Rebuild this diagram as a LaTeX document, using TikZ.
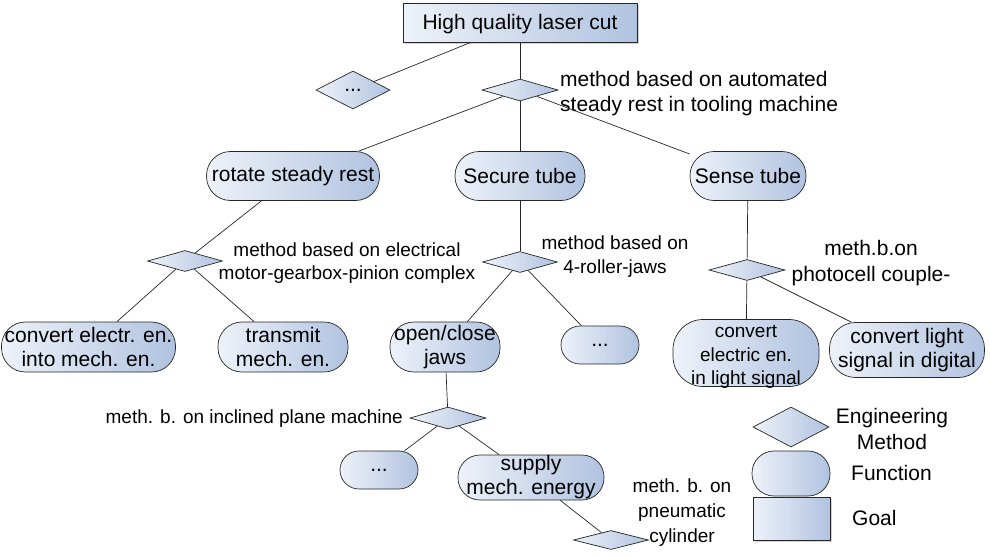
\documentclass[tikz,border=0pt]{standalone}
\usepackage{fontspec}
\setmainfont{Liberation Sans}
\usetikzlibrary{shapes.geometric,shadows}
\definecolor{lightb}{HTML}{EEF2F9}
\definecolor{darkb}{HTML}{B0C3E0}
\tikzset{
 base/.style={draw=black!85, line width=0.7pt, left color=lightb, right color=darkb, inner sep=0pt, align=center, font=\fontsize{21}{24}\selectfont},
 goalbox/.style={base, rectangle, drop shadow={shadow xshift=1.5pt, shadow yshift=-1.5pt, opacity=0.35}},
 func/.style={base, rectangle, rounded corners=24pt},
 meth/.style={base, diamond},
 lab/.style={inner sep=0pt, align=center, font=\fontsize{19}{23}\selectfont},
 conn/.style={draw=black!85, line width=0.7pt},
}
\begin{document}
\begin{tikzpicture}[x=1pt,y=-1pt]
\useasboundingbox (0,0) rectangle (990,555);
% goal and methods
\node[goalbox, minimum width=234pt, minimum height=39pt, text height=15pt, text depth=2pt] (G) at (520,22.5) {High quality laser cut};
\node[meth, minimum width=74pt, minimum height=38pt] (Md) at (353,90) {...};
\node[meth, minimum width=76pt, minimum height=22pt] (M0) at (520,90) {};
% functions level 1
\node[func, minimum width=173pt, minimum height=49pt] (F1) at (293,176) {rotate steady rest};
\node[func, minimum width=130pt, minimum height=49pt] (F2) at (520,176) {Secure tube};
\node[func, minimum width=116pt, minimum height=49pt] (F3) at (748,176) {Sense tube};
% methods level 2
\node[meth, minimum width=75pt, minimum height=21pt] (M1) at (185,261) {};
\node[meth, minimum width=75pt, minimum height=21pt] (M2) at (520,262) {};
\node[meth, minimum width=76pt, minimum height=21pt] (M3) at (747,270) {};
% functions level 2
\node[func, minimum width=174pt, minimum height=50pt] (F4) at (88.5,347) {convert electr. en.\\into mech. en.};
\node[func, minimum width=130pt, minimum height=50pt] (F5) at (283,347) {transmit\\mech. en.};
\node[func, minimum width=110pt, minimum height=50pt] (F6) at (445,347) {open/close\\jaws};
\node[func, rounded corners=19pt, minimum width=78pt, minimum height=38pt] (F7) at (600,345) {...};
\node[func, rounded corners=30pt, minimum width=146pt, minimum height=67pt] (F8) at (746,353) {};
\node[lab, font=\fontsize{19}{23.5}\selectfont] (F8t) at (746,357) {convert\\electric en.\\in light signal};
\node[func, rounded corners=26pt, minimum width=155pt, minimum height=55pt] (F9) at (907,350) {convert light\\signal in digital};
% level 3
\node[meth, minimum width=76pt, minimum height=22pt] (M4) at (448,418) {};
\node[func, rounded corners=19pt, minimum width=78pt, minimum height=38pt] (F10) at (379,470) {...};
\node[func, rounded corners=22pt, minimum width=146pt, minimum height=45pt] (F11) at (531,477.5) {supply\\mech. energy};
\node[meth, minimum width=75pt, minimum height=19pt] (M5) at (611,540) {};
% legend
\node[meth, minimum width=76pt, minimum height=40pt] (LM) at (791,427) {};
\node[func, rounded corners=22pt, minimum width=78pt, minimum height=45pt] (LF) at (791,473.5) {};
\node[goalbox, minimum width=77pt, minimum height=43pt] (LG) at (791.5,518.5) {};
% labels
\node[lab, font=\fontsize{21}{25}\selectfont, anchor=west, align=left] (L0) at (560,93.5) {method based on automated\\steady rest in tooling machine};
\node[lab] (L1) at (347,263) {method based on electrical\\motor-gearbox-pinion complex};
\node[lab, font=\fontsize{19}{24}\selectfont] (L2) at (615,256.5) {method based on\\4-roller-jaws};
\node[lab, font=\fontsize{21}{26}\selectfont] (L3) at (871,263.5) {meth.b.on\\photocell couple-};
\node[lab, anchor=east] (L4) at (403,419) {meth. b. on inclined plane machine};
\node[lab, font=\fontsize{19}{25}\selectfont] (L5) at (682,513) {meth. b. on\\pneumatic\\cylinder};
\node[lab, font=\fontsize{21}{26}\selectfont] (T1) at (892,429) {Engineering\\Method};
\node[lab, font=\fontsize{21}{24}\selectfont, anchor=west] (T2) at (851,473) {Function};
\node[lab, font=\fontsize{21}{24}\selectfont, anchor=west] (T3) at (852,518) {Goal};
% connectors
\draw[conn] (G) -- (Md);
\draw[conn] (G) -- (M0);
\draw[conn] (M0) -- (F1);
\draw[conn] (M0) -- (F2);
\draw[conn] (M0) -- (F3);
\draw[conn] (F1) -- (M1);
\draw[conn] (M1) -- (F4);
\draw[conn] (M1) -- (F5);
\draw[conn] (F2) -- (M2);
\draw[conn] (M2) -- (F6);
\draw[conn] (M2) -- (F7);
\draw[conn] (F3) -- (M3);
\draw[conn] (M3) -- (F8);
\draw[conn] (M3) -- (F9);
\draw[conn] (F6) -- (M4);
\draw[conn] (M4) -- (F10);
\draw[conn] (M4) -- (F11);
\draw[conn] (F11) -- (M5);
\end{tikzpicture}
\end{document}
